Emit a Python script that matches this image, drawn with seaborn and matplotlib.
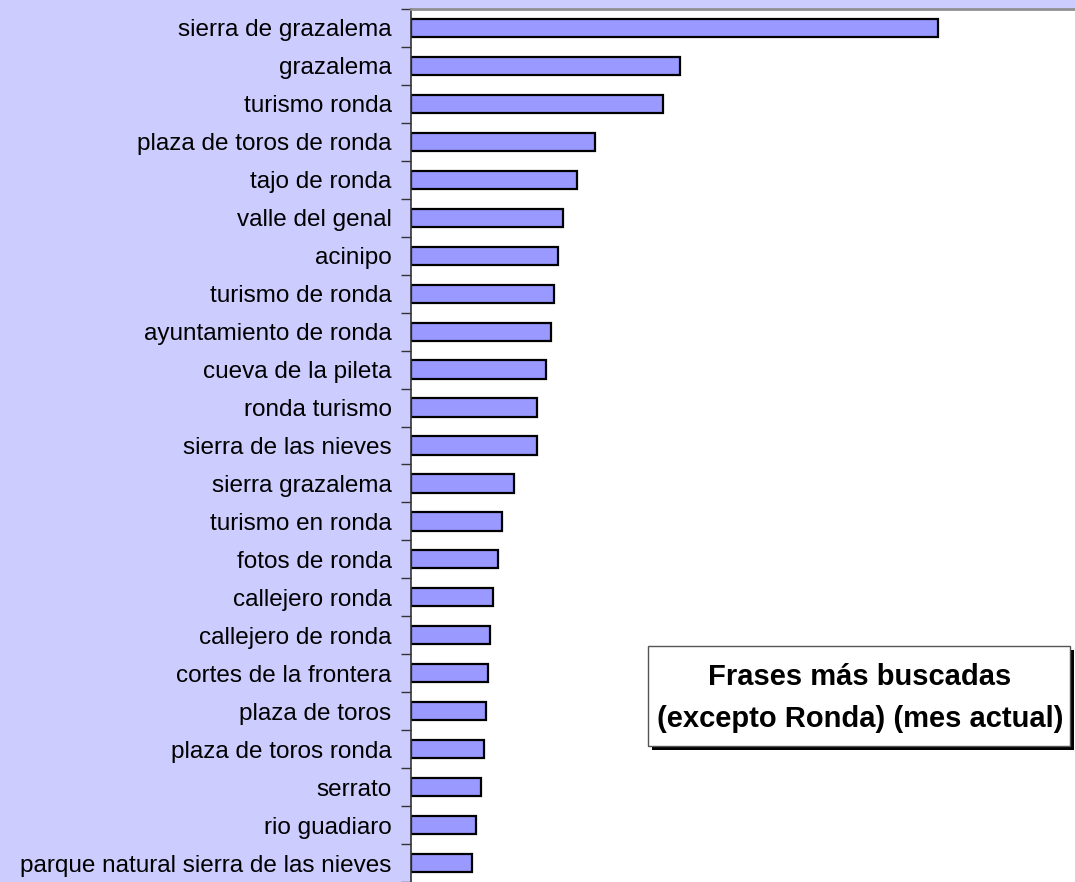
import matplotlib
matplotlib.use("Agg")
import matplotlib.pyplot as plt
import seaborn as sns
import pandas as pd
import numpy as np
from matplotlib.patches import Rectangle

categories = [
    "sierra de grazalema", "grazalema", "turismo ronda", "plaza de toros de ronda",
    "tajo de ronda", "valle del genal", "acinipo", "turismo de ronda",
    "ayuntamiento de ronda", "cueva de la pileta", "ronda turismo",
    "sierra de las nieves", "sierra grazalema", "turismo en ronda",
    "fotos de ronda", "callejero ronda", "callejero de ronda",
    "cortes de la frontera", "plaza de toros", "plaza de toros ronda",
    "serrato", "rio guadiaro", "parque natural sierra de las nieves",
]
values = [527, 269, 252, 184, 166, 152, 147, 143, 140, 135, 126, 126, 103,
          91, 87, 82, 79, 77, 75, 73, 70, 65, 61]
title_lines = ["Frases más buscadas", "(excepto Ronda) (mes actual)"]

sns.set_style("white")
plt.rcParams["font.family"] = ["Liberation Sans", "DejaVu Sans"]

W, H = 1075, 882
fig = plt.figure(figsize=(W / 100, H / 100), dpi=100, facecolor="#CCCCFF")
ax = fig.add_axes([411 / W, 0, 1 - 411 / W, (H - 9) / H])
ax.set_facecolor("white")

df = pd.DataFrame({"frase": categories, "valor": values})
sns.barplot(data=df, y="frase", x="valor", orient="h", color="#9999FF",
            saturation=1, width=0.48, edgecolor="black", linewidth=1.6, ax=ax)

n = len(categories)
ax.set_xlim(0, 664)
ax.set_ylim(n - 0.5, -0.5)
ax.set_xlabel("")
ax.set_ylabel("")
ax.set_xticks([])
ax.set_yticks(np.arange(n))
ax.set_yticklabels(categories, fontsize=17.5, color="black")
ax.set_yticks(np.arange(n + 1) - 0.5, minor=True)
ax.tick_params(axis="y", which="major", length=0, pad=14)
ax.tick_params(axis="y", which="minor", length=7, width=1, color="#333333", left=True, direction="out")

for s in ["right", "bottom"]:
    ax.spines[s].set_visible(False)
ax.spines["left"].set_color("#333333")
ax.spines["left"].set_linewidth(1.2)
ax.spines["top"].set_color("#909090")
ax.spines["top"].set_linewidth(2)

# Title box with shadow
x0, y0, x1, y1 = 648, 646, 1070, 746
fig.patches.append(Rectangle(((x0 + 4) / W, 1 - (y1 + 4) / H), (x1 - x0) / W, (y1 - y0) / H,
                             transform=fig.transFigure, facecolor="black", edgecolor="none", zorder=5))
fig.patches.append(Rectangle((x0 / W, 1 - y1 / H), (x1 - x0) / W, (y1 - y0) / H,
                             transform=fig.transFigure, facecolor="white", edgecolor="#555555",
                             linewidth=1, zorder=6))
cx = (x0 + x1) / 2 / W + 1 / W
fig.text(cx, 1 - 677 / H, title_lines[0], ha="center", va="center", fontsize=21,
         fontweight="bold", color="black", zorder=7)
fig.text(cx, 1 - 719 / H, title_lines[1], ha="center", va="center", fontsize=21,
         fontweight="bold", color="black", zorder=7)

fig.savefig("out.png", dpi=100, facecolor=fig.get_facecolor())
